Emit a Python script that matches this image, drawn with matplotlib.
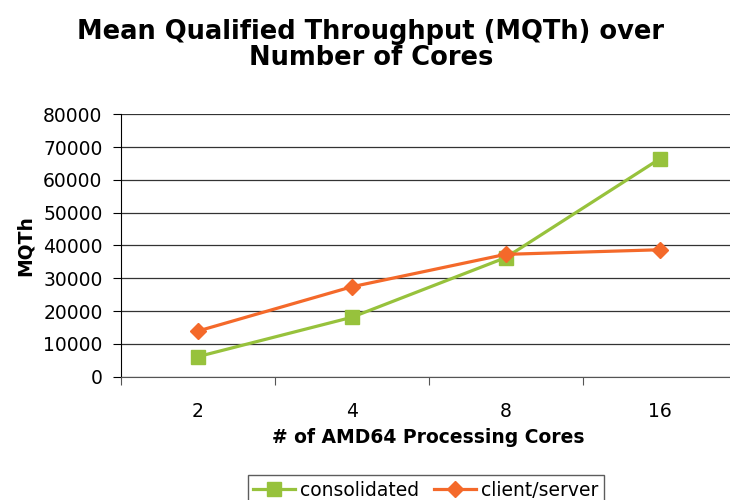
import matplotlib.pyplot as plt
import numpy as np

cores = ['2', '4', '8', '16']
consolidated = [6100, 18100, 36300, 66400]
client_server = [13900, 27400, 37300, 38700]
yticks = np.arange(0, 80001, 10000)

green = '#97C23C'
orange = '#F4692A'

fig = plt.figure(figsize=(7.3, 5.0), dpi=100)
ax = fig.add_axes([0.1653, 0.2466, 0.8438, 0.5248])

x = np.arange(len(cores))
ax.plot(x, consolidated, color=green, lw=2.3, marker='s', ms=10,
        label='consolidated', zorder=3)
ax.plot(x, client_server, color=orange, lw=2.3, marker='D', ms=8.5,
        label='client/server', zorder=4)

ax.set_xlim(-0.5, 3.5)
ax.set_ylim(0, 80000)
ax.set_yticks(yticks)
ax.set_yticklabels([str(v) for v in yticks])
ax.yaxis.grid(True, color='#333333', lw=0.9)
ax.set_axisbelow(True)

# categories sit between tick marks
ax.set_xticks(np.arange(-0.5, 3.6, 1.0))
ax.set_xticklabels([])
ax.set_xticks(x, minor=True)
ax.set_xticklabels(cores, minor=True)
ax.tick_params(axis='x', which='minor', length=0, pad=18, labelsize=13.5)
ax.tick_params(axis='x', which='major', length=6, color='#555555')
ax.tick_params(axis='y', length=6, labelsize=13.5, pad=7)

for s in ['top', 'right']:
    ax.spines[s].set_visible(False)
ax.spines['left'].set_color('black')
ax.spines['bottom'].set_color('#555555')

ax.set_xlabel('# of AMD64 Processing Cores', fontsize=13.5, fontweight='bold', labelpad=5)
ax.set_ylabel('MQTh', fontsize=13.5, fontweight='bold', labelpad=6)

fig.text(0.508, 0.962, 'Mean Qualified Throughput (MQTh) over\nNumber of Cores',
         ha='center', va='top', fontsize=18.5, fontweight='bold', linespacing=1.02)

fig.legend(loc='upper center', bbox_to_anchor=(426 / 730, 1 - 466 / 500), ncol=2,
           fontsize=13.5, frameon=True, fancybox=False, edgecolor='#333333',
           handlelength=2.2, handletextpad=0.3, columnspacing=0.8, borderpad=0.3)

fig.savefig('out.png', dpi=100)
